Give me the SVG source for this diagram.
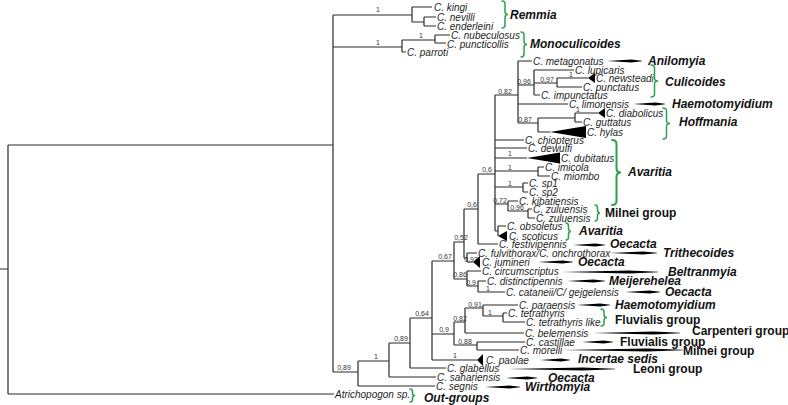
<svg xmlns="http://www.w3.org/2000/svg" width="788" height="405" viewBox="0 0 788 405">
<style>
.br{fill:none;stroke:#2b2b2b;stroke-width:1.2}
.sp{font-family:"Liberation Sans",Arial,sans-serif;font-style:italic;font-size:10px;fill:#1e1e1e;dominant-baseline:central}
.bs{font-family:"Liberation Sans",Arial,sans-serif;font-size:7px;fill:#333;text-anchor:middle}
.gi{font-family:"Liberation Sans",Arial,sans-serif;font-style:italic;font-weight:bold;font-size:12px;fill:#111;dominant-baseline:central}
.gb{font-family:"Liberation Sans",Arial,sans-serif;font-weight:bold;font-size:12px;fill:#111;dominant-baseline:central}
.brace{fill:none;stroke:#2ca24c;stroke-width:1.5;stroke-linecap:round}
.tri{fill:#000}
.wedge{fill:#000}
</style>
<rect width="788" height="405" fill="#fff"/>
<g id="connectors">
<g class="br">
<path d="M0,269H8M8,145V394M8,145H333M8,394H334"/>
<path d="M333,15V372M333,15H412M333,47H402M333,372H358"/>
<path d="M412,7V22M412,7H432M412,22H424M424,17V26M424,17H436M424,26H436"/>
<path d="M402,40V52M402,40H435M435,35V43M435,35H450M435,43H446M402,52H406"/>
<path d="M358,361V386M358,361H389M358,386H435"/>
<path d="M389,343V377M389,343H410M389,377H436"/>
<path d="M410,318V368M410,318H432M410,368H446"/>
<path d="M432,261V360M432,261H454M432,334H454M432,360H477"/>
<path d="M454,322V345M454,322H465M454,345H477"/>
<path d="M465,308V333M465,308H483M465,333H524"/>
<path d="M483,305V316M483,305H518M483,316H503M503,313V322M503,313H507M503,322H525"/>
<path d="M477,342V350M477,342H525M477,350H519"/>
<path d="M454,242V279M454,242H464M454,279H467"/>
<path d="M467,271V286M467,271H481M467,286H478M478,281V292M478,281H486M478,292H505"/>
<path d="M464,209V258M464,209H478M464,258H467M467,253V262M467,253H477M467,262H473"/>
<path d="M478,174V244M478,174H495M478,244H498"/>
<path d="M495,95V231M495,95H518M495,140H524M495,148H527M495,158H527M495,171H538M538,167V176M538,167H544M538,176H550M495,187H523M523,183V192M523,183H528M523,192H528M495,204H508M508,201V211M508,201H518M508,211H528M528,209V218M528,209H532M528,218H535M495,231H498M498,226V236M498,226H506"/>
<path d="M518,61V123M518,61H532M518,85H534M518,104H568M518,123H538"/>
<path d="M534,70V95M534,70H574M534,83H557M534,95H540M557,78V87M557,78H588M557,87H582"/>
<path d="M538,118V132M538,118H575M575,113V122M575,113H598M575,122H582M538,132H550"/>
</g>
<g class="wedge">
<path d="M607,61L631.5,59.6L642,60.7V61.3L631.5,62.4Z"/>
<path d="M633,104L655.4,102.6L665,103.7V104.3L655.4,105.4Z"/>
<path d="M573,245L595.4,243.6L605,244.7V245.3L595.4,246.4Z"/>
<path d="M610,253L642.9,251.6L657,252.7V253.3L642.9,254.4Z"/>
<path d="M538,262L562.5,260.6L573,261.7V262.3L562.5,263.4Z"/>
<path d="M562,272L629.2,270.6L658,271.7V272.3L629.2,273.4Z"/>
<path d="M567,281L593.6,279.6L605,280.7V281.3L593.6,282.4Z"/>
<path d="M625,292L649.5,290.6L660,291.7V292.3L649.5,293.4Z"/>
<path d="M577,305L600.1,303.6L610,304.7V305.3L600.1,306.4Z"/>
<path d="M593,333L653.9,331.6L680,332.7V333.3L653.9,334.4Z"/>
<path d="M582,342L603.7,340.6L613,341.7V342.3L603.7,343.4Z"/>
<path d="M563,350L647,348.6L683,349.7V350.3L647,351.4Z"/>
<path d="M540,360L561,358.6L570,359.7V360.3L561,361.4Z"/>
<path d="M508,369L582.9,367.6L615,368.7V369.3L582.9,370.4Z"/>
<path d="M505,378L527.4,376.6L537,377.7V378.3L527.4,379.4Z"/>
<path d="M485,387L509.5,385.6L520,386.7V387.3L509.5,388.4Z"/>
</g>
<g id="support">
<text class="bs" x="378" y="12">1</text>
<text class="bs" x="378" y="45">1</text>
<text class="bs" x="421" y="38">1</text>
<text class="bs" x="344" y="370">0,89</text>
<text class="bs" x="376" y="359">1</text>
<text class="bs" x="401" y="341">0,89</text>
<text class="bs" x="422" y="316">0,64</text>
<text class="bs" x="445" y="259">0,67</text>
<text class="bs" x="444" y="332">0,9</text>
<text class="bs" x="455" y="358">1</text>
<text class="bs" x="461" y="240">0,52</text>
<text class="bs" x="460" y="277">0,86</text>
<text class="bs" x="471" y="262">0,93</text>
<text class="bs" x="471" y="285">0,9</text>
<text class="bs" x="488" y="291">1</text>
<text class="bs" x="472" y="207">0,6</text>
<text class="bs" x="487" y="172">0,6</text>
<text class="bs" x="505" y="93.5">0,82</text>
<text class="bs" x="524" y="83.5">0,96</text>
<text class="bs" x="547" y="81.5">0,97</text>
<text class="bs" x="571" y="76.5">1</text>
<text class="bs" x="525" y="121.5">0,87</text>
<text class="bs" x="578" y="111.5">1</text>
<text class="bs" x="510" y="156">1</text>
<text class="bs" x="510" y="169.5">1</text>
<text class="bs" x="510" y="185.5">1</text>
<text class="bs" x="500" y="202.5">0,72</text>
<text class="bs" x="517" y="210">0,96</text>
<text class="bs" x="475" y="306.5">0,91</text>
<text class="bs" x="460" y="320.5">0,82</text>
<text class="bs" x="490" y="315">1</text>
<text class="bs" x="465" y="343.5">0,88</text>
</g>
</g>
<g id="collapsed" class="tri">
<path d="M588,78L595,73L595,83Z"/>
<path d="M598,113L605,108L605,118Z"/>
<path d="M550,132L586,126L586,138Z"/>
<path d="M527,158L560,152.5L560,163.5Z"/>
<path d="M498,236L507,231L507,241Z"/>
<path d="M473,262L480,256L480,268Z"/>
<path d="M477,360L483,354L483,366Z"/>
</g>
<g id="taxa">
<g id="t-kingi"><text class="sp" x="434" y="7">C. kingi</text></g>
<g id="t-nevilli"><text class="sp" x="437" y="17">C. nevilli</text></g>
<g id="t-enderleini"><text class="sp" x="437" y="26">C. enderleini</text></g>
<g id="t-nubeculosus"><text class="sp" x="451" y="35">C. nubeculosus</text></g>
<g id="t-puncticollis"><text class="sp" x="447" y="44">C. puncticollis</text></g>
<g id="t-parroti"><text class="sp" x="407" y="52">C. parroti</text></g>
<g id="t-metagonatus"><text class="sp" x="533" y="61">C. metagonatus</text></g>
<g id="t-lupicaris"><text class="sp" x="575" y="70">C. lupicaris</text></g>
<g id="t-newsteadi"><text class="sp" x="596" y="78">C. newsteadi</text></g>
<g id="t-punctatus"><text class="sp" x="583" y="87">C. punctatus</text></g>
<g id="t-impunctatus"><text class="sp" x="541" y="95">C. impunctatus</text></g>
<g id="t-limonensis"><text class="sp" x="569" y="104">C. limonensis</text></g>
<g id="t-diabolicus"><text class="sp" x="606" y="113">C. diabolicus</text></g>
<g id="t-guttatus"><text class="sp" x="583" y="122">C. guttatus</text></g>
<g id="t-hylas"><text class="sp" x="587" y="132">C. hylas</text></g>
<g id="t-chiopterus"><text class="sp" x="525" y="140">C. chiopterus</text></g>
<g id="t-dewulfi"><text class="sp" x="528" y="148">C. dewulfi</text></g>
<g id="t-dubitatus"><text class="sp" x="561" y="158">C. dubitatus</text></g>
<g id="t-imicola"><text class="sp" x="545" y="167">C. imicola</text></g>
<g id="t-miombo"><text class="sp" x="551" y="176">C. miombo</text></g>
<g id="t-sp1"><text class="sp" x="529" y="183">C. sp1</text></g>
<g id="t-sp2"><text class="sp" x="529" y="192">C. sp2</text></g>
<g id="t-kibatiensis"><text class="sp" x="519" y="201">C. kibatiensis</text></g>
<g id="t-zuluensis1"><text class="sp" x="533" y="209">C. zuluensis</text></g>
<g id="t-zuluensis2"><text class="sp" x="536" y="218">C. zuluensis</text></g>
<g id="t-obsoletus"><text class="sp" x="507" y="226">C. obsoletus</text></g>
<g id="t-scoticus"><text class="sp" x="509" y="236">C. scoticus</text></g>
<g id="t-festivipennis"><text class="sp" x="499" y="244">C. festivipennis</text></g>
<g id="t-fulvithorax"><text class="sp" x="478" y="253">C. fulvithorax/C. onchrothorax</text></g>
<g id="t-jumineri"><text class="sp" x="482" y="262">C. jumineri</text></g>
<g id="t-circumscriptus"><text class="sp" x="482" y="271">C. circumscriptus</text></g>
<g id="t-distinctipennis"><text class="sp" x="487" y="281">C. distinctipennis</text></g>
<g id="t-cataneii"><text class="sp" x="506" y="292">C. cataneii/C/ gejgelensis</text></g>
<g id="t-paraensis"><text class="sp" x="519" y="305">C. paraensis</text></g>
<g id="t-tetrathyris"><text class="sp" x="508" y="313">C. tetrathyris</text></g>
<g id="t-tetrathyris-like"><text class="sp" x="526" y="322">C. tetrathyris like</text></g>
<g id="t-belemensis"><text class="sp" x="525" y="333">C. belemensis</text></g>
<g id="t-castillae"><text class="sp" x="526" y="342">C. castillae</text></g>
<g id="t-morelli"><text class="sp" x="520" y="350">C. morelli</text></g>
<g id="t-paolae"><text class="sp" x="486" y="360">C. paolae</text></g>
<g id="t-glabellus"><text class="sp" x="447" y="368">C. glabellus</text></g>
<g id="t-sahariensis"><text class="sp" x="437" y="377">C. sahariensis</text></g>
<g id="t-segnis"><text class="sp" x="436" y="386">C. segnis</text></g>
<g id="t-atrichopogon"><text class="sp" x="335" y="394">Atrichopogon sp.</text></g>
</g>
<g id="groups">
<g id="g-remmia"><path class="brace" d="M502,1Q505,1 505,4V11.5Q505,14.5 508,14.5Q505,14.5 505,17.5V25Q505,28 502,28"/><text class="gi" x="510" y="15">Remmia</text></g>
<g id="g-monoculicoides"><path class="brace" d="M521,32Q524,32 524,35V41.5Q524,44.5 527,44.5Q524,44.5 524,47.5V54Q524,57 521,57"/><text class="gi" x="530" y="44">Monoculicoides</text></g>
<g id="g-anilomyia"><text class="gi" x="648" y="61">Anilomyia</text></g>
<g id="g-culicoides"><path class="brace" d="M651,65Q654.5,65 654.5,68V78Q654.5,81 658,81Q654.5,81 654.5,84V94Q654.5,97 651,97"/><text class="gi" x="665" y="82">Culicoides</text></g>
<g id="g-haemotomyidium1"><text class="gi" x="672" y="104">Haemotomyidium</text></g>
<g id="g-hoffmania"><path class="brace" d="M663,108Q666.5,108 666.5,111V120.5Q666.5,123.5 670,123.5Q666.5,123.5 666.5,126.5V136Q666.5,139 663,139"/><text class="gi" x="679" y="122">Hoffmania</text></g>
<g id="g-avaritia1"><path class="brace" style="stroke-width:2" d="M612,140Q616.5,140 616.5,144V168.5Q616.5,172.5 621,172.5Q616.5,172.5 616.5,176.5V201Q616.5,205 612,205"/><text class="gi" x="628" y="172">Avaritia</text></g>
<g id="g-milnei1"><path class="brace" d="M595,205Q597.5,205 597.5,208V210Q597.5,213 600,213Q597.5,213 597.5,216V218Q597.5,221 595,221"/><text class="gb" x="605" y="213">Milnei group</text></g>
<g id="g-avaritia2"><path class="brace" d="M566,223Q568.5,223 568.5,226V228.5Q568.5,231.5 571,231.5Q568.5,231.5 568.5,234.5V237Q568.5,240 566,240"/><text class="gi" x="579" y="231">Avaritia</text></g>
<g id="g-oecacta1"><text class="gi" x="610" y="244">Oecacta</text></g>
<g id="g-trithecoides"><text class="gi" x="663" y="253">Trithecoides</text></g>
<g id="g-oecacta2"><text class="gi" x="578" y="262">Oecacta</text></g>
<g id="g-beltranmyia"><text class="gi" x="668" y="272">Beltranmyia</text></g>
<g id="g-meijerehelea"><text class="gi" x="609" y="281">Meijerehelea</text></g>
<g id="g-oecacta3"><text class="gi" x="665" y="292">Oecacta</text></g>
<g id="g-haemotomyidium2"><text class="gi" x="615" y="305">Haemotomyidium</text></g>
<g id="g-fluvialis1"><path class="brace" d="M601,309Q604,309 604,312V314.5Q604,317.5 607,317.5Q604,317.5 604,320.5V323Q604,326 601,326"/><text class="gb" x="615" y="320">Fluvialis group</text></g>
<g id="g-carpenteri"><text class="gb" x="692" y="331">Carpenteri group</text></g>
<g id="g-fluvialis2"><text class="gb" x="620" y="342">Fluvialis group</text></g>
<g id="g-milnei2"><text class="gb" x="683" y="351">Milnei group</text></g>
<g id="g-incertae"><text class="gi" x="578" y="359">Incertae sedis</text></g>
<g id="g-leoni"><text class="gb" x="633" y="369">Leoni group</text></g>
<g id="g-oecacta4"><text class="gi" x="548" y="378">Oecacta</text></g>
<g id="g-wirthomyia"><text class="gi" x="525" y="387">Wirthomyia</text></g>
<g id="g-outgroups"><path class="brace" d="M410,389Q412.5,389 412.5,391.5V393Q412.5,395.5 415,395.5Q412.5,395.5 412.5,398V399.5Q412.5,402 410,402"/><text class="gi" x="424" y="398">Out-groups</text></g>
</g>
</svg>
